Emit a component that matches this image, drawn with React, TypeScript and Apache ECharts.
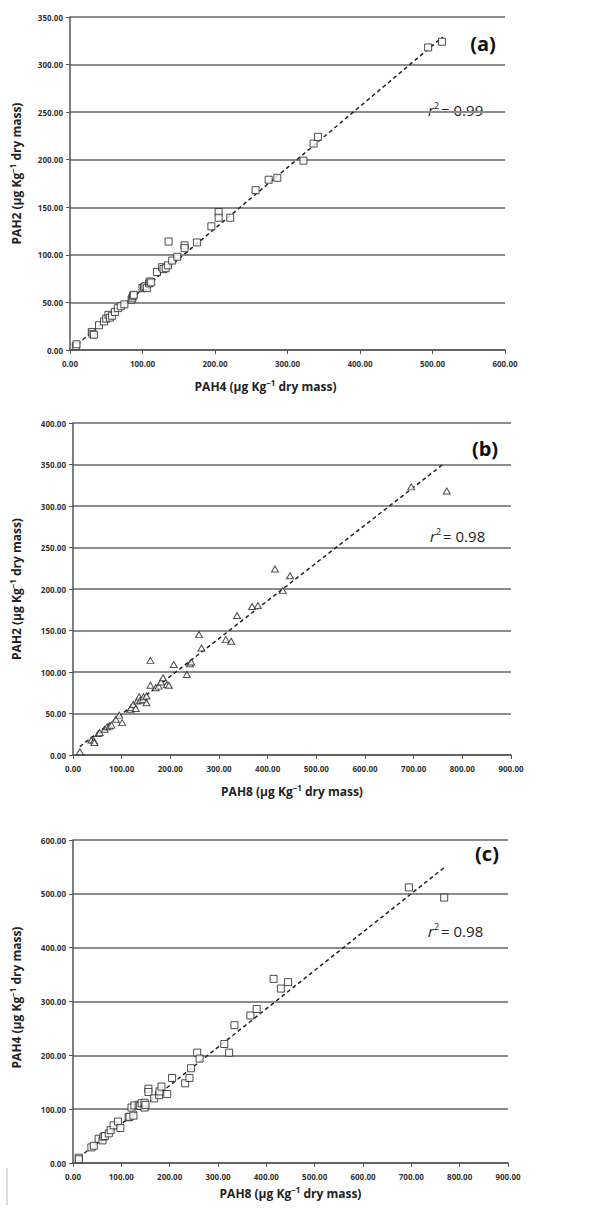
import React, { useEffect, useRef } from "react";
import * as echarts from "echarts";

// Panel (a): PAH4 (x) vs PAH2 (y)
const pointsA: number[][] = [
  [8, 4], [9, 6], [30, 19], [31, 17], [33, 16], [40, 26], [47, 30], [50, 33], [53, 37], [55, 34],
  [58, 36], [62, 40], [66, 44], [70, 46], [75, 48], [85, 53], [86, 55], [87, 57], [88, 58], [100, 65],
  [102, 66], [104, 67], [106, 65], [109, 70], [110, 72], [112, 71], [120, 82], [127, 87], [129, 85], [132, 86],
  [135, 89], [136, 114], [141, 94], [148, 98], [158, 110], [158, 107], [175, 113], [195, 130], [205, 145], [205, 139],
  [221, 139], [256, 168], [274, 179], [286, 181], [322, 199], [336, 217], [342, 224], [494, 318], [513, 324],
];
// Panel (b): PAH8 (x) vs PAH2 (y)
const pointsB: number[][] = [
  [14, 4], [38, 18], [43, 17], [44, 15], [52, 26], [55, 27], [65, 31], [70, 34], [75, 35], [79, 36],
  [88, 43], [95, 48], [101, 39], [118, 55], [119, 57], [124, 61], [129, 56], [132, 65], [136, 70], [138, 66],
  [144, 67], [145, 70], [151, 71], [151, 63], [159, 114], [159, 84], [170, 81], [176, 83], [181, 88], [185, 93],
  [193, 85], [197, 84], [207, 109], [234, 97], [240, 110], [243, 112], [259, 145], [264, 129], [314, 139], [325, 137],
  [337, 168], [368, 179], [380, 180], [415, 224], [431, 198], [446, 216], [695, 323], [768, 318],
];
// Panel (c): PAH8 (x) vs PAH4 (y)
const pointsC: number[][] = [
  [12, 10], [12, 7], [38, 29], [43, 32], [53, 45], [61, 42], [63, 49], [66, 50], [74, 55], [78, 61],
  [84, 70], [93, 77], [98, 65], [115, 85], [117, 86], [121, 103], [125, 88], [127, 107], [136, 108], [139, 106],
  [142, 111], [148, 103], [148, 112], [150, 108], [156, 138], [156, 132], [168, 120], [178, 126], [179, 133], [183, 142],
  [195, 128], [205, 158], [232, 148], [241, 158], [244, 176], [257, 205], [262, 194], [313, 221], [323, 205], [334, 256],
  [367, 274], [380, 286], [415, 342], [430, 324], [445, 336], [695, 512], [768, 493],
];

// Trend lines (end points)
const trendA: number[][] = [[10, 6], [514, 329]];
const trendB: number[][] = [[14, 10], [760, 350]];
const trendC: number[][] = [[12, 10], [767, 548]];

const r2Labels = ["0.99", "0.98", "0.98"];
const panelLabels = ["(a)", "(b)", "(c)"];
const xNames = ["PAH4", "PAH8", "PAH8"];
const yNames = ["PAH2", "PAH2", "PAH4"];
const xMax = [600, 900, 900];
const xInterval = [100, 100, 100];
const yMax = [350, 400, 600];
const yInterval = [50, 50, 100];

const FONT = "'Open Sans', 'DejaVu Sans', sans-serif";

export default function App() {
  const ref = useRef<HTMLDivElement>(null);

  useEffect(() => {
    document.body.style.margin = "0";
    if (!ref.current) return;
    const chart = echarts.init(ref.current, undefined, { renderer: "svg" });

    const grids = [
      { left: 68, top: 17, width: 437, height: 333 },
      { left: 73, top: 423, width: 438, height: 332 },
      { left: 71, top: 840, width: 437, height: 323 },
    ];
    const yNameGap = [46, 49, 49];
    const xNameGap = [28, 28, 22];
    const xNamePad = [[0, 44, 0, 0], [0, 0, 0, 0], [0, 0, 0, 0]];
    const yNamePad = [[0, 0, 0, 20], [0, 0, 0, 0], [0, 0, 0, 8]];

    const nameRich = {
      sup: { fontSize: 8, fontWeight: "bold", color: "#222", fontFamily: FONT, verticalAlign: "top", padding: [0, 0, 8, 0] },
    };
    const unit = (n: string) => `${n} (µg Kg{sup|−1} dry mass)`;

    const axisLabel = {
      fontSize: 8,
      fontWeight: "bold",
      color: "#333",
      fontFamily: FONT,
      formatter: (v: number) => v.toFixed(2),
    };

    const xAxis = grids.map((_, i) => ({
      type: "value",
      gridIndex: i,
      min: 0,
      max: xMax[i],
      interval: xInterval[i],
      name: unit(xNames[i]),
      nameLocation: "middle",
      nameGap: xNameGap[i],
      nameTextStyle: {
        fontSize: 12,
        fontWeight: "bold",
        color: "#222",
        fontFamily: FONT,
        padding: xNamePad[i],
        rich: nameRich,
      },
      axisLine: { show: true, lineStyle: { color: "#555", width: 1.5 } },
      axisTick: { show: true, length: 4, lineStyle: { color: "#555" } },
      axisLabel: { ...axisLabel, margin: 9 },
      splitLine: { show: false },
    }));

    const yAxis = grids.map((_, i) => ({
      type: "value",
      gridIndex: i,
      min: 0,
      max: yMax[i],
      interval: yInterval[i],
      name: unit(yNames[i]),
      nameLocation: "middle",
      nameGap: yNameGap[i],
      nameTextStyle: {
        fontSize: 12,
        fontWeight: "bold",
        color: "#222",
        fontFamily: FONT,
        padding: yNamePad[i],
        rich: nameRich,
      },
      axisLine: { show: true, lineStyle: { color: "#555", width: 1.5 } },
      axisTick: { show: true, length: 4, lineStyle: { color: "#555" } },
      axisLabel: { ...axisLabel, margin: 7 },
      splitLine: { show: true, lineStyle: { color: "#8c8c8c", width: 2 } },
    }));

    const pts = [pointsA, pointsB, pointsC];
    const trends = [trendA, trendB, trendC];
    const symbols = ["rect", "triangle", "rect"];

    const series: any[] = [];
    pts.forEach((p, i) => {
      series.push({
        type: "line",
        xAxisIndex: i,
        yAxisIndex: i,
        data: trends[i],
        showSymbol: false,
        symbol: "none",
        lineStyle: { color: "#222", width: 1.5, type: [4, 3] },
        z: 2,
      });
      series.push({
        type: "scatter",
        xAxisIndex: i,
        yAxisIndex: i,
        data: p,
        symbol: symbols[i],
        symbolSize: symbols[i] === "rect" ? 7 : [7, 6],
        itemStyle: { color: "#fff", borderColor: "#222", borderWidth: 1 },
        z: 3,
      });
    });

    const r2Pos = [[428, 110], [430, 536], [428, 931]];
    const labelPos = [[483, 43], [485, 448], [487, 853]];
    const graphic: any[] = [];
    r2Pos.forEach((p, i) => {
      graphic.push({
        type: "text",
        x: p[0],
        y: p[1],
        style: {
          text: `{i|r}{s|2}{n|= ${r2Labels[i]}}`,
          verticalAlign: "middle",
          rich: {
            i: { fontSize: 15, fontStyle: "italic", fill: "#222", fontFamily: FONT },
            s: { fontSize: 9, fill: "#222", fontFamily: FONT, verticalAlign: "top", padding: [0, 2, 9, 0] },
            n: { fontSize: 15, fill: "#222", fontFamily: FONT },
          },
        },
      });
    });
    labelPos.forEach((p, i) => {
      graphic.push({
        type: "text",
        x: p[0],
        y: p[1],
        style: {
          text: panelLabels[i],
          fontSize: 20,
          fontWeight: "bold",
          fill: "#111",
          fontFamily: FONT,
          align: "center",
          verticalAlign: "middle",
        },
      });
    });
    graphic.push({
      type: "line",
      shape: { x1: 7, y1: 1168, x2: 7, y2: 1205 },
      style: { stroke: "#bbb", lineWidth: 1 },
    });

    chart.setOption({
      animation: false,
      backgroundColor: "#fff",
      grid: grids,
      xAxis,
      yAxis,
      series,
      graphic,
    });

    return () => chart.dispose();
  }, []);

  return <div ref={ref} style={{ width: 608, height: 1211 }} />;
}
